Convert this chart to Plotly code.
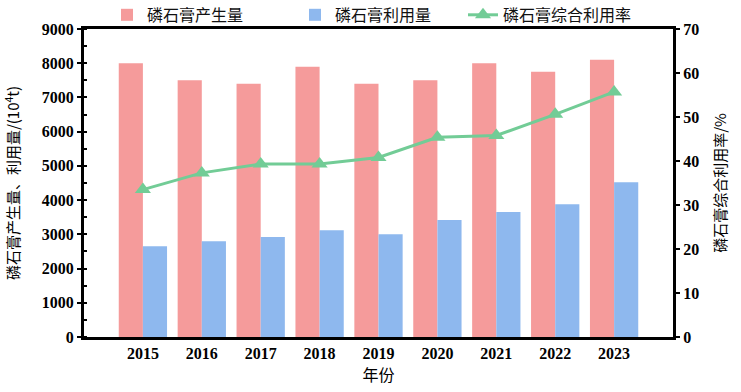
import plotly.graph_objects as go

years = ["2015", "2016", "2017", "2018", "2019", "2020", "2021", "2022", "2023"]
production = [8000, 7500, 7400, 7900, 7400, 7500, 8000, 7750, 8100]
utilization = [2650, 2800, 2920, 3120, 3000, 3420, 3650, 3880, 4520]
rate = [33.5, 37.3, 39.3, 39.3, 40.8, 45.4, 45.8, 50.6, 55.7]

name_prod = "磷石膏产生量"
name_util = "磷石膏利用量"
name_rate = "磷石膏综合利用率"

PINK = "#F59B9B"
BLUE = "#8EB8EE"
GREEN = "#72CC96"

CJK = "Noto Sans CJK SC"
NUM = "Liberation Serif"

fig = go.Figure()
fig.add_trace(go.Bar(x=years, y=production, name=name_prod, marker=dict(color=PINK, line=dict(width=0)),
                     legend="legend", showlegend=True))
fig.add_trace(go.Bar(x=years, y=utilization, name=name_util, marker=dict(color=BLUE, line=dict(width=0)),
                     legend="legend2", showlegend=True))
fig.add_trace(go.Scatter(x=years, y=rate, name=name_rate, yaxis="y2", mode="lines+markers",
                         line=dict(color=GREEN, width=3),
                         marker=dict(symbol="triangle-up", size=14, color=GREEN),
                         legend="legend3", showlegend=True))

legend_common = dict(orientation="h", yanchor="middle", yref="container", y=0.962,
                     xanchor="left", xref="container",
                     font=dict(family=CJK, size=16, color="#111"), bgcolor="rgba(0,0,0,0)",
                     itemwidth=30, visible=True)

fig.update_layout(
    width=741, height=392,
    margin=dict(l=84, r=68, t=29, b=55, autoexpand=False),
    plot_bgcolor="white", paper_bgcolor="white",
    showlegend=True,
    barmode="group", bargap=0.18, bargroupgap=0,
    legend=dict(legend_common, x=107 / 741),
    legend2=dict(legend_common, x=295 / 741),
    legend3=dict(legend_common, x=463 / 741),
    xaxis=dict(type="category", range=[-1, 9], showline=True, linewidth=3, linecolor="black",
               mirror=True, ticks="", showgrid=False,
               tickfont=dict(family=NUM, size=16, color="black", weight="bold"),
               title=dict(text="年份", font=dict(family=CJK, size=16, color="black"), standoff=4)),
    yaxis=dict(range=[0, 9000], dtick=1000, showline=True, linewidth=3, linecolor="black",
               ticks="outside", ticklen=4, tickwidth=2, tickcolor="black", showgrid=False, zeroline=False,
               minor=dict(dtick=500, ticks="inside", ticklen=3, tickwidth=2, tickcolor="black"),
               tickfont=dict(family=NUM, size=16, color="black", weight="bold"),
               title=dict(text="磷石膏产生量、利用量/(10<sup>4</sup>t)",
                          font=dict(family=CJK, size=15, color="black"), standoff=19)),
    yaxis2=dict(range=[0, 70], dtick=10, overlaying="y", side="right", showline=True, linewidth=3,
                linecolor="black", ticks="outside", ticklen=4, tickwidth=2, tickcolor="black",
                showgrid=False, zeroline=False,
                tickfont=dict(family=NUM, size=16, color="black", weight="bold"),
                title=dict(text="磷石膏综合利用率/%", font=dict(family=CJK, size=15, color="black"),
                           standoff=18)),
)

fig.write_html("out.html", config={"displayModeBar": False},
               post_script="document.body.style.margin='0';document.body.style.padding='0';")
